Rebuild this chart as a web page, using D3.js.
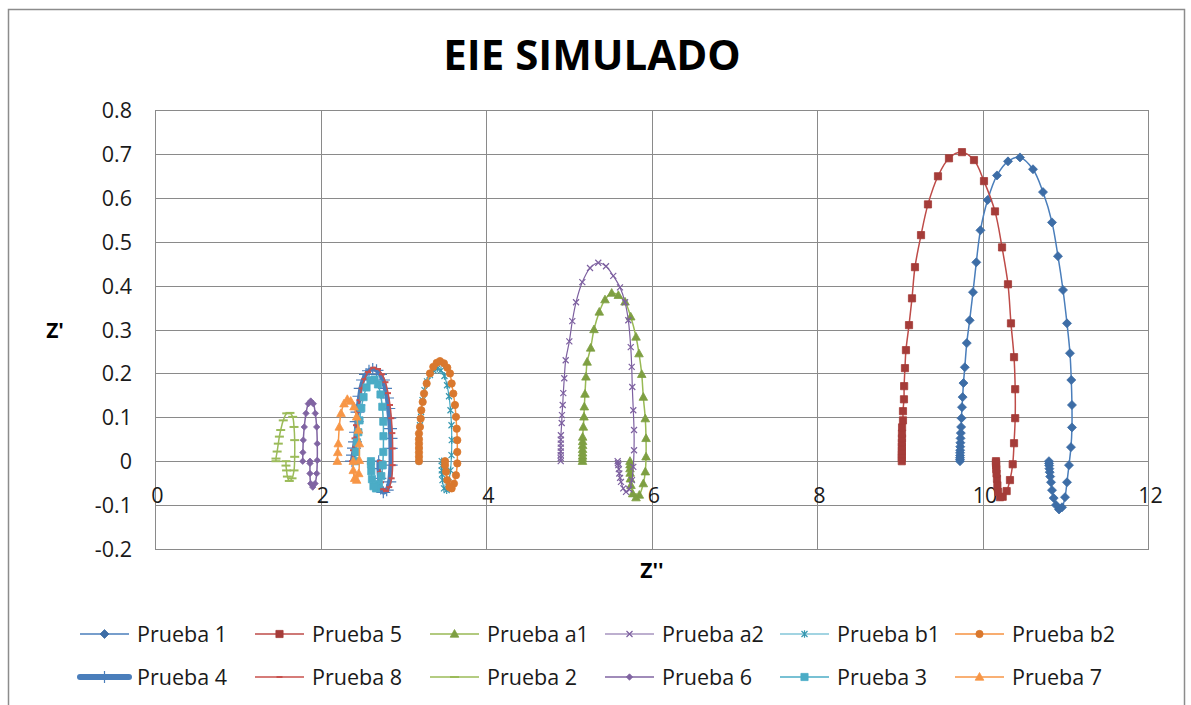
<!DOCTYPE html>
<html><head><meta charset="utf-8">
<script src="https://cdn.jsdelivr.net/npm/d3@7"></script>
<style>
html,body{margin:0;padding:0;background:#fff;}
svg{display:block;font-family:"Open Sans",sans-serif;}
</style></head>
<body><svg id="c" width="1191" height="705"></svg>
<script>
// ---- data (Z'' , Z') ----
const seriesNames = ["Prueba 1","Prueba 5","Prueba a1","Prueba a2","Prueba b1","Prueba b2","Prueba 4","Prueba 8","Prueba 2","Prueba 6","Prueba 3","Prueba 7"];
const xTicks = [0,2,4,6,8,10,12];
const yTicks = [-0.2,-0.1,0,0.1,0.2,0.3,0.4,0.5,0.6,0.7,0.8];

const prueba1 = [[9.728,0.000],[9.728,0.004],[9.728,0.008],[9.729,0.013],[9.729,0.019],[9.730,0.025],[9.731,0.033],[9.733,0.042],[9.735,0.052],[9.738,0.064],[9.742,0.078],[9.746,0.098],[9.752,0.123],[9.760,0.146],[9.770,0.178],[9.786,0.214],[9.810,0.269],[9.845,0.321],[9.885,0.385],[9.925,0.453],[9.975,0.526],[10.062,0.595],[10.175,0.651],[10.308,0.683],[10.453,0.692],[10.610,0.665],[10.731,0.613],[10.840,0.544],[10.912,0.467],[10.973,0.390],[11.021,0.314],[11.057,0.246],[11.073,0.185],[11.081,0.128],[11.081,0.077],[11.069,0.032],[11.045,-0.009],[11.021,-0.048],[10.997,-0.082],[10.961,-0.105],[10.925,-0.110],[10.888,-0.100],[10.860,-0.084],[10.840,-0.066],[10.828,-0.048],[10.818,-0.035],[10.812,-0.025],[10.808,-0.017],[10.806,-0.010],[10.804,-0.005],[10.803,0.000]];
const prueba5 = [[9.025,0.000],[9.025,0.008],[9.025,0.016],[9.026,0.024],[9.026,0.033],[9.026,0.042],[9.027,0.052],[9.027,0.063],[9.028,0.077],[9.039,0.093],[9.039,0.114],[9.051,0.141],[9.053,0.171],[9.063,0.212],[9.075,0.253],[9.112,0.310],[9.148,0.371],[9.184,0.442],[9.257,0.515],[9.341,0.585],[9.462,0.649],[9.595,0.690],[9.752,0.704],[9.897,0.686],[10.018,0.638],[10.151,0.569],[10.236,0.487],[10.308,0.403],[10.344,0.314],[10.381,0.237],[10.395,0.164],[10.395,0.098],[10.381,0.041],[10.365,-0.007],[10.332,-0.043],[10.292,-0.068],[10.244,-0.081],[10.211,-0.082],[10.190,-0.070],[10.180,-0.055],[10.175,-0.040],[10.170,-0.028],[10.167,-0.018],[10.165,-0.010],[10.163,-0.004],[10.163,0.000]];
const pruebaA1 = [[5.166,0.000],[5.166,0.006],[5.167,0.012],[5.167,0.019],[5.167,0.027],[5.168,0.036],[5.168,0.045],[5.168,0.055],[5.176,0.078],[5.184,0.101],[5.188,0.124],[5.196,0.153],[5.208,0.192],[5.222,0.226],[5.265,0.258],[5.305,0.300],[5.369,0.340],[5.438,0.368],[5.519,0.383],[5.599,0.378],[5.680,0.363],[5.749,0.329],[5.813,0.283],[5.849,0.245],[5.882,0.198],[5.901,0.146],[5.925,0.097],[5.934,0.052],[5.934,0.010],[5.925,-0.024],[5.901,-0.051],[5.853,-0.077],[5.813,-0.083],[5.773,-0.074],[5.752,-0.055],[5.745,-0.040],[5.742,-0.027],[5.740,-0.017],[5.740,-0.008],[5.740,0.000]];
const pruebaA2 = [[4.903,0.000],[4.903,0.007],[4.903,0.014],[4.903,0.022],[4.904,0.031],[4.904,0.040],[4.904,0.049],[4.905,0.059],[4.915,0.087],[4.918,0.105],[4.927,0.128],[4.934,0.155],[4.946,0.189],[4.963,0.230],[5.007,0.273],[5.043,0.319],[5.088,0.362],[5.164,0.408],[5.257,0.440],[5.357,0.452],[5.450,0.444],[5.538,0.422],[5.619,0.396],[5.680,0.362],[5.720,0.321],[5.749,0.260],[5.761,0.215],[5.768,0.169],[5.780,0.116],[5.789,0.071],[5.789,0.025],[5.780,-0.013],[5.764,-0.043],[5.732,-0.064],[5.692,-0.070],[5.659,-0.062],[5.631,-0.047],[5.620,-0.038],[5.611,-0.028],[5.605,-0.018],[5.599,-0.009],[5.595,-0.004],[5.591,0.000]];
const pruebaB1 = [[3.190,0.000],[3.190,0.010],[3.190,0.020],[3.190,0.032],[3.190,0.048],[3.202,0.082],[3.215,0.112],[3.233,0.139],[3.257,0.162],[3.287,0.182],[3.323,0.196],[3.366,0.207],[3.411,0.211],[3.456,0.207],[3.498,0.194],[3.529,0.173],[3.553,0.148],[3.571,0.116],[3.583,0.082],[3.586,0.048],[3.583,0.014],[3.571,-0.021],[3.547,-0.048],[3.525,-0.066],[3.492,-0.062],[3.474,-0.043],[3.468,-0.030],[3.465,-0.021],[3.465,-0.010],[3.465,0.000]];
const pruebaB2 = [[3.190,0.000],[3.190,0.010],[3.190,0.020],[3.190,0.030],[3.190,0.040],[3.190,0.050],[3.190,0.063],[3.202,0.078],[3.211,0.097],[3.218,0.116],[3.235,0.135],[3.251,0.154],[3.283,0.177],[3.323,0.200],[3.363,0.215],[3.404,0.224],[3.444,0.228],[3.492,0.223],[3.532,0.213],[3.565,0.200],[3.585,0.177],[3.605,0.154],[3.625,0.128],[3.637,0.101],[3.646,0.074],[3.653,0.048],[3.653,0.021],[3.653,-0.005],[3.637,-0.032],[3.613,-0.051],[3.585,-0.062],[3.557,-0.059],[3.532,-0.043],[3.517,-0.024],[3.505,-0.009],[3.505,0.000]];
const prueba4 = [[2.381,0.000],[2.393,0.014],[2.405,0.030],[2.417,0.044],[2.429,0.066],[2.437,0.090],[2.447,0.112],[2.457,0.128],[2.471,0.148],[2.486,0.166],[2.514,0.185],[2.550,0.198],[2.586,0.206],[2.631,0.210],[2.677,0.207],[2.719,0.198],[2.755,0.185],[2.779,0.166],[2.804,0.144],[2.819,0.120],[2.831,0.098],[2.840,0.074],[2.846,0.052],[2.848,0.029],[2.848,-0.009],[2.831,-0.047],[2.800,-0.066],[2.759,-0.071],[2.727,-0.062],[2.711,-0.039],[2.703,-0.017],[2.703,0.000]];
const prueba8 = [[2.381,0.000],[2.393,0.025],[2.411,0.052],[2.429,0.082],[2.447,0.112],[2.471,0.139],[2.498,0.166],[2.532,0.187],[2.574,0.203],[2.638,0.213],[2.695,0.210],[2.743,0.198],[2.785,0.180],[2.816,0.155],[2.840,0.128],[2.856,0.098],[2.868,0.064],[2.872,0.029],[2.872,-0.009],[2.860,-0.039],[2.831,-0.059],[2.792,-0.068],[2.755,-0.064],[2.731,-0.048],[2.719,-0.025],[2.719,0.000]];
const prueba2 = [[1.462,0.000],[1.462,0.006],[1.476,0.022],[1.490,0.040],[1.503,0.056],[1.519,0.071],[1.550,0.093],[1.592,0.109],[1.631,0.110],[1.664,0.101],[1.680,0.078],[1.688,0.048],[1.688,0.010],[1.680,-0.021],[1.656,-0.039],[1.623,-0.045],[1.600,-0.035],[1.590,-0.021],[1.583,-0.010],[1.583,0.000]];
const prueba6 = [[1.785,0.000],[1.787,0.020],[1.792,0.048],[1.804,0.078],[1.825,0.109],[1.853,0.131],[1.882,0.137],[1.913,0.131],[1.937,0.109],[1.954,0.078],[1.961,0.040],[1.961,0.002],[1.954,-0.028],[1.934,-0.051],[1.906,-0.059],[1.882,-0.051],[1.873,-0.028],[1.873,-0.005],[1.873,0.000]];
const prueba3 = [[2.423,0.000],[2.429,0.021],[2.441,0.043],[2.457,0.066],[2.471,0.093],[2.493,0.121],[2.520,0.146],[2.556,0.168],[2.604,0.184],[2.653,0.186],[2.695,0.175],[2.725,0.152],[2.747,0.124],[2.759,0.090],[2.761,0.057],[2.759,0.021],[2.752,-0.009],[2.735,-0.034],[2.707,-0.052],[2.671,-0.062],[2.640,-0.057],[2.622,-0.041],[2.614,-0.023],[2.610,-0.007],[2.610,0.000]];
const prueba7 = [[2.203,0.000],[2.209,0.020],[2.215,0.040],[2.227,0.078],[2.248,0.109],[2.284,0.131],[2.324,0.141],[2.365,0.137],[2.405,0.124],[2.437,0.101],[2.457,0.071],[2.469,0.040],[2.469,0.002],[2.462,-0.028],[2.437,-0.043],[2.413,-0.039],[2.396,-0.021],[2.396,0.000]];

const seriesData = [prueba1,prueba5,pruebaA1,pruebaA2,pruebaB1,pruebaB2,prueba4,prueba8,prueba2,prueba6,prueba3,prueba7];

// ---- styles ----
const styles = [
  {line:"#4A7EBB", mark:"#3D6DA6", shape:"diamond", lw:1.5},
  {line:"#BE4B48", mark:"#A53C39", shape:"square", lw:1.5},
  {line:"#98B954", mark:"#7E9F42", shape:"triangle", lw:1.5},
  {line:"#7D60A0", mark:"#7D60A0", shape:"x", lw:1.2},
  {line:"#46AAC5", mark:"#3597B0", shape:"star", lw:1.2},
  {line:"#F69240", mark:"#D9782E", shape:"circle", lw:1.5},
  {line:"#4A7EBB", mark:"#4A7EBB", shape:"plus", lw:4.5},
  {line:"#C9504D", mark:"#C9504D", shape:"dash", lw:1.5},
  {line:"#9BBB59", mark:"#9BBB59", shape:"dashL", lw:1.5},
  {line:"#8064A2", mark:"#8064A2", shape:"smallDiamond", lw:1.5},
  {line:"#4BACC6", mark:"#4BACC6", shape:"square", lw:1.5},
  {line:"#F79646", mark:"#F79646", shape:"triangle", lw:1.5}
];

function markerPath(shape){
  switch(shape){
    case "diamond": return "M0,-4.5L4.5,0L0,4.5L-4.5,0Z";
    case "smallDiamond": return "M0,-3.2L3.2,0L0,3.2L-3.2,0Z";
    case "square": return "M-3.6,-3.6H3.6V3.6H-3.6Z";
    case "triangle": return "M0,-4.5L4.3,3.2L-4.3,3.2Z";
    case "circle": return d3.symbol(d3.symbolCircle, 42)();
    case "x": return "M-3,-3L3,3M-3,3L3,-3";
    case "star": return "M-3,-3L3,3M-3,3L3,-3M0,-3.8V3.8";
    case "plus": return "M-7,0H7M0,-6V6";
    case "dash": return "M-3,0H3";
    case "dashL": return "M-4.5,0H4.5";
  }
}
const strokeOnly = new Set(["x","star","plus","dash","dashL"]);

const svg = d3.select("#c");
const FS = 21.5;

// outer frame
svg.append("rect").attr("x",8.5).attr("y",9.5).attr("width",1176).attr("height",720)
  .attr("fill","#fff").attr("stroke","#8c8c8c").attr("stroke-width",1.5);

const plot = {l:155, r:1148, t:110, b:549};
const x = d3.scaleLinear().domain([0,12]).range([plot.l, plot.r]);
const y = d3.scaleLinear().domain([-0.2,0.8]).range([plot.b, plot.t]);

// gridlines
const grid = svg.append("g");
grid.selectAll("line.h").data(yTicks).join("line")
  .attr("x1",plot.l).attr("x2",plot.r).attr("y1",d=>Math.round(y(d))+0.5).attr("y2",d=>Math.round(y(d))+0.5)
  .attr("stroke","#8a8a8a").attr("stroke-width",1);
grid.selectAll("line.v").data(xTicks).join("line")
  .attr("y1",plot.t).attr("y2",plot.b).attr("x1",d=>Math.round(x(d))+0.5).attr("x2",d=>Math.round(x(d))+0.5)
  .attr("stroke","#8a8a8a").attr("stroke-width",1);
svg.append("rect").attr("x",plot.l+0.5).attr("y",plot.t+0.5).attr("width",plot.r-plot.l).attr("height",plot.b-plot.t)
  .attr("fill","none").attr("stroke","#8a8a8a");

// axes via d3 axis generators (labels only)
const fmt = d => (Math.abs(d)<1e-9 ? "0" : d3.format(".1f")(d).replace("\u2212","-"));
const yAxis = d3.axisLeft(y).tickValues(yTicks).tickSize(0).tickPadding(0).tickFormat(fmt);
const gy = svg.append("g").attr("transform",`translate(${plot.l-23},0)`).call(yAxis);
gy.select(".domain").remove();
gy.selectAll("text").attr("font-family","Open Sans").attr("font-size",FS).attr("fill","#1a1a1a").attr("dy","0.35em");

const xAxis = d3.axisBottom(x).tickValues(xTicks).tickSize(0).tickPadding(0).tickFormat(d3.format("d"));
const gx = svg.append("g").attr("transform",`translate(0,${y(-0.1)})`).call(xAxis);
gx.select(".domain").remove();
gx.selectAll("text").attr("font-family","Open Sans").attr("font-size",FS).attr("fill","#1a1a1a").attr("dy","-0.1em").attr("dx","2");

// title and axis titles
svg.append("text").attr("x",592).attr("y",70).attr("text-anchor","middle")
  .attr("font-family","Open Sans").attr("font-weight","bold").attr("font-size",42).attr("fill","#000").text("EIE SIMULADO");
svg.append("text").attr("x",55).attr("y",338).attr("text-anchor","middle")
  .attr("font-family","Open Sans").attr("font-weight","bold").attr("font-size",21).attr("fill","#000").text("Z'");
svg.append("text").attr("x",652).attr("y",578).attr("text-anchor","middle")
  .attr("font-family","Open Sans").attr("font-weight","bold").attr("font-size",21).attr("fill","#000").text("Z''");

// series
const lineGen = d3.line().x(d=>x(d[0])).y(d=>y(d[1])).curve(d3.curveCatmullRom.alpha(0.5));
seriesData.forEach((data,i)=>{
  const st = styles[i];
  const g = svg.append("g");
  g.append("path").attr("d",lineGen(data)).attr("fill","none").attr("stroke",st.line)
    .attr("stroke-width",st.lw).attr("stroke-linejoin","round").attr("stroke-linecap","round");
  const so = strokeOnly.has(st.shape);
  g.selectAll("path.m").data(data).join("path").attr("class","m")
    .attr("transform",d=>`translate(${x(d[0])},${y(d[1])})`)
    .attr("d",markerPath(st.shape))
    .attr("fill", so ? "none" : st.mark)
    .attr("stroke", st.mark)
    .attr("stroke-width", so ? (st.shape==="dash"||st.shape==="dashL"?2:1.2) : 0.8);
});

// legend (2 rows x 6 equal-width columns)
const legStart = 80, legStep = 175, legRowY0 = 634, legRowStep = 43;
const leg = svg.append("g");
seriesNames.forEach((name,i)=>{
  const st = styles[i];
  const cx = legStart + (i%6)*legStep, cy = legRowY0 + Math.floor(i/6)*legRowStep;
  const g = leg.append("g").attr("transform",`translate(${cx},${cy})`);
  g.append("line").attr("x1",0).attr("x2",49).attr("y1",0).attr("y2",0)
    .attr("stroke",st.line).attr("stroke-width", st.lw>3 ? 6 : st.lw).attr("stroke-linecap", st.lw>3?"round":"butt");
  const so = strokeOnly.has(st.shape);
  g.append("path").attr("transform","translate(24.5,0)").attr("d",markerPath(st.shape))
    .attr("fill", so?"none":st.mark).attr("stroke",st.mark)
    .attr("stroke-width", so ? (st.shape==="dash"||st.shape==="dashL"?2:1.2) : 0.8);
  g.append("text").attr("x",57).attr("y",0).attr("dy","0.35em")
    .attr("font-family","Open Sans").attr("font-size",FS).attr("fill","#1a1a1a").text(name);
});
</script>
</body></html>
